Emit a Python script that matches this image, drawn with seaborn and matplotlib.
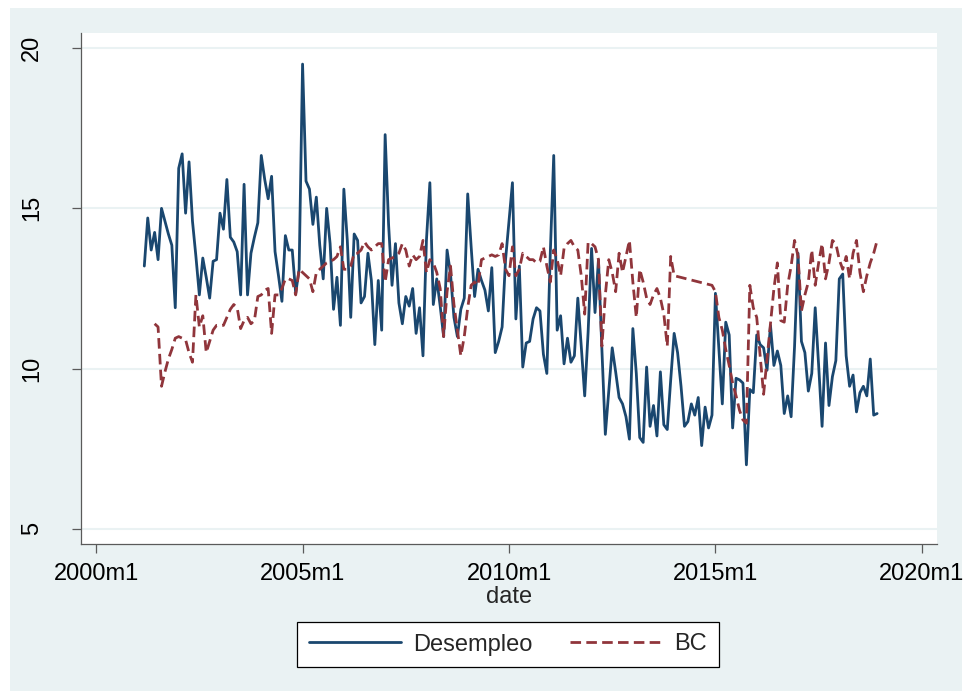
import numpy as np
import pandas as pd
import matplotlib
matplotlib.use("Agg")
import matplotlib.pyplot as plt
import seaborn as sns
from matplotlib.patches import Rectangle

# Stata %tm month numbers: 480 = 2000m1, series starts 2001m3
first_month = 494

# one row per calendar year (2001 starts in March)
desempleo = [
    13.2, 14.7, 13.7, 14.25, 13.4, 15.0, 14.6, 14.2, 13.85, 11.9,
    16.25, 16.7, 14.85, 16.45, 14.6, 13.5, 12.3, 13.45, 12.85, 12.2, 13.35, 13.4,
    14.85, 14.35, 15.9, 14.1, 13.95, 13.65, 12.3, 15.75, 12.3, 13.6, 14.1, 14.55,
    16.65, 15.9, 15.3, 16.0, 13.65, 12.9, 12.1, 14.15, 13.7, 13.7, 12.35, 13.1,
    19.5, 15.85, 15.6, 14.5, 15.35, 13.85, 12.8, 15.0, 13.9, 11.85, 12.85, 11.35,
    15.6, 14.0, 11.6, 14.2, 14.0, 12.05, 12.25, 13.6, 12.75, 10.75, 12.75, 11.2,
    17.3, 14.5, 12.6, 13.9, 12.05, 11.4, 12.25, 11.95, 12.5, 11.1, 11.9, 10.4,
    14.0, 15.8, 12.0, 12.8, 11.95, 11.0, 13.7, 12.95, 11.6, 11.0, 11.85, 12.2,
    15.45, 13.8, 12.25, 13.1, 12.75, 12.45, 11.8, 13.15, 10.5, 10.85, 11.3, 13.4,
    14.6, 15.8, 11.55, 13.2, 10.05, 10.8, 10.85, 11.55, 11.9, 11.8, 10.45, 9.85,
    13.6, 16.65, 11.2, 11.65, 10.15, 10.95, 10.2, 10.4, 12.2, 10.7, 9.15, 11.15,
    13.75, 11.75, 13.4, 10.6, 7.95, 9.3, 10.65, 9.9, 9.1, 8.9, 8.5, 7.8,
    11.25, 9.85, 7.85, 7.7, 10.05, 8.2, 8.85, 7.9, 9.9, 8.25, 8.1, 9.65,
    11.1, 10.5, 9.45, 8.2, 8.35, 8.9, 8.55, 9.1, 7.6, 8.8, 8.15, 8.55,
    12.35, 10.6, 8.9, 11.45, 11.05, 8.15, 9.7, 9.65, 9.55, 7.0, 9.35, 9.25,
    11.05, 10.75, 10.65, 9.95, 11.35, 10.1, 10.55, 10.1, 8.6, 9.15, 8.5, 10.7,
    13.6, 10.85, 10.5, 9.3, 9.85, 11.9, 10.1, 8.2, 10.8, 8.85, 9.75, 10.25,
    12.8, 12.95, 10.4, 9.45, 9.8, 8.65, 9.25, 9.45, 9.15, 10.3, 8.55, 8.6,
]

nan = np.nan
bc = [
    nan, nan, nan, 11.4, 11.3, 9.45, 9.9, 10.3, 10.6, 10.95,
    11.0, 10.95, 10.9, 10.5, 10.2, 12.3, 11.3, 11.65, 10.5, 10.85, 11.2, 11.35,
    11.35, 11.35, 11.6, 11.85, 12.0, 11.9, 11.25, 11.5, 11.6, 11.4, 11.5, 12.25,
    12.3, 12.45, 12.5, 11.1, 12.3, 12.3, 12.5, 12.8, 12.8, 12.75, 12.3, 13.1,
    13.0, 12.9, 12.8, 12.4, 13.0, 13.1, 13.2, 13.3, 13.35, 13.4, 13.5, 13.8,
    13.1, 13.1, 13.2, 13.6, 13.6, 13.7, 13.95, 13.8, 13.7, 13.8, 13.9, 13.9,
    12.7, 13.4, 13.45, 13.5, 13.6, 13.9, 13.7, 13.2, 13.55, 13.4, 13.5, 14.0,
    13.0, 13.4, 13.3, 13.0, 12.5, 11.0, 12.4, 13.2, 12.0, 11.2, 10.4, 11.0,
    11.9, 12.6, 12.7, 12.6, 13.4, 13.45, 13.5, 13.55, 13.5, 13.55, 13.9, 13.1,
    12.9, 13.8, 12.9, 13.1, 13.6, 13.5, 13.4, 13.4, 13.3, 13.35, 13.8, 13.2,
    12.7, 13.7, 13.4, 12.9, 13.75, 13.9, 14.0, 13.8, 13.7, 12.9, 11.7, 13.95,
    13.9, 13.8, 13.4, 10.7, 12.3, 13.4, 13.0, 12.4, 13.6, 13.0, 13.5, 14.0,
    12.7, 11.6, 13.1, 12.7, 12.2, 12.0, 12.3, 12.5, 12.2, 11.7, 10.7, 13.5,
    12.9, nan, nan, nan, nan, nan, nan, nan, nan, nan, nan, 12.6,
    12.4, 11.6, 11.2, 10.6, 10.1, 9.55, 9.15, 8.7, 8.4, 8.3, 12.6, 11.9,
    11.6, 10.4, 9.2, 10.3, 11.4, 12.5, 13.3, 11.5, 11.45, 12.6, 13.2, 14.0,
    13.5, 11.8, 12.3, 12.7, 13.7, 12.6, 13.3, 13.9, 12.8, 13.3, 14.0, 13.9,
    13.4, 13.1, 13.5, 12.8, 13.6, 14.0, 13.0, 12.4, 12.9, 13.3, 13.6, 14.0,
]

x_ticks = [480, 540, 600, 660, 720]
x_labels = ["2000m1", "2005m1", "2010m1", "2015m1", "2020m1"]
y_ticks = [5, 10, 15, 20]

df = pd.DataFrame({"date": first_month + np.arange(len(desempleo)),
                   "Desempleo": desempleo, "BC": bc})

W, H = 968, 693
sns.set_theme(style="white")
plt.rcParams['font.family'] = ['Liberation Sans', 'DejaVu Sans']

fig = plt.figure(figsize=(W / 100, H / 100), dpi=100)
fig.patch.set_facecolor('white')
fig.patches.append(Rectangle((10 / W, 2 / H), 952 / W, 683 / H, transform=fig.transFigure,
                             facecolor='#EAF2F3', edgecolor='none', zorder=-10))

ax = fig.add_axes([81 / W, 1 - 544 / H, (937 - 81) / W, (544 - 33) / H])
ax.set_facecolor('white')

sns.lineplot(data=df, x="date", y="Desempleo", ax=ax, color='#1a476f', lw=2, label="Desempleo")
sns.lineplot(data=df.dropna(subset=["BC"]), x="date", y="BC", ax=ax, color='#90353b', lw=2, label="BC")
ax.lines[1].set_dashes((3.8, 1.9))

ax.set_xlim(475.6, 724.4)
ax.set_ylim(4.53, 20.47)
ax.set_xticks(x_ticks)
ax.set_xticklabels(x_labels)
ax.set_yticks(y_ticks)
ax.set_yticklabels([str(v) for v in y_ticks], rotation=90, va='center')

ax.yaxis.grid(True, color='#EAF2F3', lw=1.5)
ax.xaxis.grid(False)
ax.set_axisbelow(True)

for side in ['top', 'right']:
    ax.spines[side].set_visible(False)
for side in ['left', 'bottom']:
    ax.spines[side].set_color('#5a5a5a')
    ax.spines[side].set_linewidth(0.9)

ax.tick_params(axis='both', direction='out', length=6.5, width=0.9, color='#5a5a5a',
               labelsize=17, labelcolor='black', left=True, bottom=True)
ax.tick_params(axis='y', pad=21)
ax.tick_params(axis='x', pad=7)
ax.set_xlabel("date", fontsize=17, labelpad=1)
ax.set_ylabel("")

handles, labels = ax.get_legend_handles_labels()
if ax.get_legend():
    ax.get_legend().remove()
leg = fig.legend(handles, labels, loc='center', bbox_to_anchor=(508 / W, 1 - 644.5 / H),
                 ncol=2, frameon=True, fancybox=False, edgecolor='black', facecolor='white',
                 framealpha=1, fontsize=17, handlelength=3.9, handletextpad=0.5,
                 columnspacing=1.6, borderpad=0.5)
leg.get_frame().set_linewidth(0.9)

fig.savefig("out.png", dpi=100)
